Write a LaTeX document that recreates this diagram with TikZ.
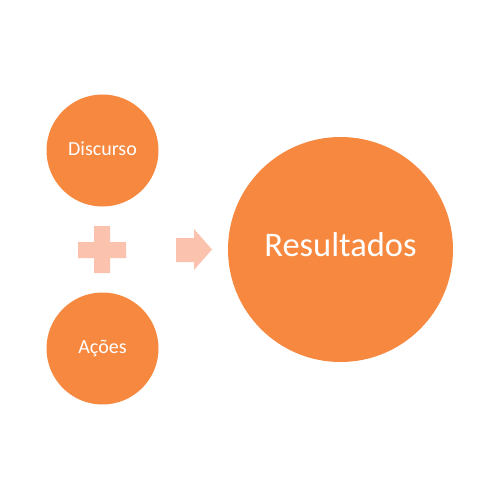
\documentclass[tikz,border=0pt]{standalone}
\usepackage{fontspec}
\setmainfont{Carlito}
\definecolor{orng}{HTML}{F7883F}
\definecolor{lorng}{HTML}{FBC2AE}
\begin{document}
\begin{tikzpicture}[x=1pt,y=-1pt,
  bub/.style={circle,fill=orng,text=white,inner sep=0pt},
  shp/.style={fill=lorng,draw=none}]
\useasboundingbox (0,0) rectangle (500,500);
\node[bub,minimum size=112pt,text depth=4pt,font=\fontsize{20}{24}\selectfont] (disc) at (102.5,150.5) {Discurso};
\node[bub,minimum size=112pt,text depth=4pt,font=\fontsize{20}{24}\selectfont] (acoes) at (102.5,348.5) {Ações};
\node[bub,minimum size=225pt,text depth=9pt,font=\fontsize{34.5}{40}\selectfont] (res) at (340.5,249.5) {Resultados};
\fill[shp] (94,226) -- (110,226) -- (110,242) -- (126,242) -- (126,258) -- (110,258) -- (110,273) -- (94,273) -- (94,258) -- (78,258) -- (78,242) -- (94,242) -- cycle;
\fill[shp] (176,238) -- (194,238) -- (194,229) -- (212,249.5) -- (194,270) -- (194,262) -- (176,262) -- cycle;
\end{tikzpicture}
\end{document}
